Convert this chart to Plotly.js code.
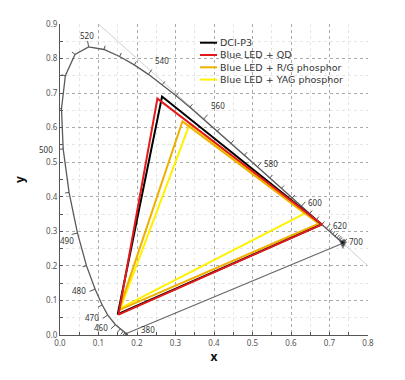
<!DOCTYPE html>
<html><head><meta charset="utf-8">
<script src="https://cdn.plot.ly/plotly-3.0.1.min.js"></script>
<style>html,body{margin:0;padding:0;background:#fff}#chart{width:405px;height:380px}</style>
</head><body><div id="chart"></div>
<script>
// CIE 1931 spectral locus
const locusNm = [380,390,400,410,420,430,440,450,460,470,475,480,485,490,495,500,505,510,515,520,525,530,535,540,545,550,555,560,565,570,575,580,585,590,595,600,605,610,615,620,625,630,635,640,645,650,660,670,680,690,700];
const locusX = [0.1741,0.1738,0.1733,0.1726,0.1714,0.1689,0.1644,0.1566,0.1440,0.1241,0.1096,0.0913,0.0687,0.0454,0.0235,0.0082,0.0039,0.0139,0.0389,0.0743,0.1142,0.1547,0.1929,0.2296,0.2658,0.3016,0.3373,0.3731,0.4087,0.4441,0.4788,0.5125,0.5448,0.5752,0.6029,0.6270,0.6482,0.6658,0.6801,0.6915,0.7006,0.7079,0.7140,0.7190,0.7230,0.7260,0.7300,0.7320,0.7334,0.7344,0.7347];
const locusY = [0.0050,0.0049,0.0048,0.0048,0.0051,0.0069,0.0109,0.0177,0.0297,0.0578,0.0868,0.1327,0.2007,0.2950,0.4127,0.5384,0.6548,0.7502,0.8120,0.8338,0.8262,0.8059,0.7816,0.7543,0.7243,0.6923,0.6589,0.6245,0.5896,0.5547,0.5202,0.4866,0.4544,0.4242,0.3965,0.3725,0.3514,0.3340,0.3197,0.3083,0.2993,0.2920,0.2859,0.2809,0.2770,0.2740,0.2700,0.2680,0.2666,0.2656,0.2653];
const labeledNm = [380,460,470,480,490,500,520,540,560,580,600,620,700];

// Gamut triangles (R, G, B vertices)
const dciX = [0.680,0.265,0.150], dciY = [0.320,0.690,0.060];
const qdX  = [0.681,0.253,0.152], qdY  = [0.320,0.684,0.059];
const rgX  = [0.672,0.318,0.153], rgY  = [0.322,0.618,0.072];
const yagX = [0.636,0.337,0.157], yagY = [0.352,0.611,0.078];
const seriesNames = ['DCI-P3','Blue LED + QD','Blue LED + R/G phosphor','Blue LED + YAG phosphor'];
const seriesColors = ['#000000','#e31a1c','#f0b000','#fff200'];

// reference line x + y = 1
const diagX = [0.1, 0.8];
const diagY = diagX.map(v => 1 - v);

const W=405, H=380, M={l:60,r:37,t:24,b:45};
const XR=[0,0.8], YR=[0,0.9];
const sx=(W-M.l-M.r)/(XR[1]-XR[0]), sy=(H-M.t-M.b)/(YR[1]-YR[0]);
const n = locusNm.length;

function normalAt(i){
  const a=Math.max(0,i-1), b=Math.min(n-1,i+1);
  let tx=(locusX[b]-locusX[a])*sx, ty=(locusY[b]-locusY[a])*sy;
  const L=Math.hypot(tx,ty)||1; tx/=L; ty/=L;
  return [-ty, tx];
}

const tickX=[], tickY=[];
for(let i=0;i<n;i++){
  const [nx,ny]=normalAt(i);
  const len = labeledNm.includes(locusNm[i]) ? 6 : 4;
  tickX.push(locusX[i], locusX[i]+nx*len/sx, null);
  tickY.push(locusY[i], locusY[i]+ny*len/sy, null);
}

const font = '"Noto Sans", "Open Sans", sans-serif';
const annotations = [];
const special = {
  380:{xa:'left',ya:'middle',xs:13,ys:4},
  490:{xa:'right',ya:'middle',xs:-2,ys:-7},
  520:{xa:'center',ya:'bottom',xs:-2,ys:5},
  700:{xa:'left',ya:'middle',xs:5,ys:2}
};
labeledNm.forEach(nm=>{
  const i = locusNm.indexOf(nm);
  let o = special[nm];
  if(!o){
    const [nx,ny]=normalAt(i);
    const d=9;
    o = {xs:nx*d, ys:ny*d*(Math.abs(ny)>0.75?1:0.5),
         xa: nx>0.4?'left':(nx<-0.4?'right':'center'),
         ya: ny>0.75?'bottom':(ny<-0.75?'top':'middle')};
  }
  annotations.push({x:locusX[i], y:locusY[i], xref:'x', yref:'y', text:String(nm), showarrow:false,
    xanchor:o.xa, yanchor:o.ya, xshift:o.xs, yshift:o.ys, borderpad:0, font:{family:font,size:8,color:'#333'}});
});

// manual legend: line samples + one multi-line text block
const shapes=[];
const pw=W-M.l-M.r, ph=H-M.t-M.b;
const legX0=(200-M.l)/pw, legX1=(217-M.l)/pw, legTX=(218.5-M.l)/pw;
const legRows=[42.7,55,67.3,79.6].map(py=>(H-M.b-py)/ph);
seriesNames.forEach((nm,k)=>{
  shapes.push({type:'line', xref:'paper', yref:'paper', x0:legX0, x1:legX1, y0:legRows[k], y1:legRows[k], line:{color:seriesColors[k], width:2}});
});
annotations.push({xref:'paper', yref:'paper', x:legTX, y:(legRows[0]+legRows[3])/2, text:seriesNames.join('<br>'),
  showarrow:false, xanchor:'left', yanchor:'middle', align:'left', borderpad:0,
  font:{family:'"DejaVu Sans", sans-serif', size:9.5, color:'#333'}});

const close = a => a.concat([a[0]]);
const traces = [
  {x:diagX, y:diagY, mode:'lines', line:{color:'#cfcfcf', width:1}, hoverinfo:'skip', showlegend:false},
  {x:locusX, y:locusY, mode:'lines', line:{color:'#5a5a5a', width:1.3}, name:'Spectral locus', showlegend:false},
  {x:tickX, y:tickY, mode:'lines', line:{color:'#555', width:1}, hoverinfo:'skip', showlegend:false},
  {x:[locusX[0], locusX[n-1]], y:[locusY[0], locusY[n-1]], mode:'lines+markers', line:{color:'#666', width:1.2},
   marker:{symbol:'triangle-up', size:[0,8], color:'#000', angleref:'previous'}, hoverinfo:'skip', showlegend:false},
  {x:close(yagX), y:close(yagY), mode:'lines', line:{color:seriesColors[3], width:2}, name:seriesNames[3], showlegend:false},
  {x:close(rgX), y:close(rgY), mode:'lines', line:{color:seriesColors[2], width:2}, name:seriesNames[2], showlegend:false},
  {x:close(dciX), y:close(dciY), mode:'lines', line:{color:seriesColors[0], width:2}, name:seriesNames[0], showlegend:false},
  {x:close(qdX), y:close(qdY), mode:'lines', line:{color:seriesColors[1], width:2}, name:seriesNames[1], showlegend:false}
];

const axisCommon = {
  dtick:0.1, tick0:0, tickformat:'.1f', ticks:'inside', ticklen:3, tickcolor:'#555', tickwidth:1,
  showline:true, linecolor:'#555', linewidth:1, showgrid:true, gridcolor:'#aaa', griddash:'dot', gridwidth:1,
  zeroline:false, automargin:false, fixedrange:true,
  minor:{dtick:0.05, tick0:0, ticks:'inside', ticklen:3, tickcolor:'#555', showgrid:true, gridcolor:'#e6e6e6', gridwidth:1},
  tickfont:{family:font, size:8, color:'#555'}
};
const layout = {
  width:W, height:H, margin:M, paper_bgcolor:'#fff', plot_bgcolor:'#fff', showlegend:false,
  xaxis:Object.assign({}, axisCommon, {range:XR, title:{text:'<b>x</b>', font:{family:font,size:12,color:'#111'}, standoff:3}}),
  yaxis:Object.assign({}, axisCommon, {range:YR, title:{text:'<b>y</b>', font:{family:font,size:12,color:'#111'}, standoff:18}}),
  annotations, shapes
};
Plotly.newPlot('chart', traces, layout, {displayModeBar:false, staticPlot:true});
</script></body></html>
